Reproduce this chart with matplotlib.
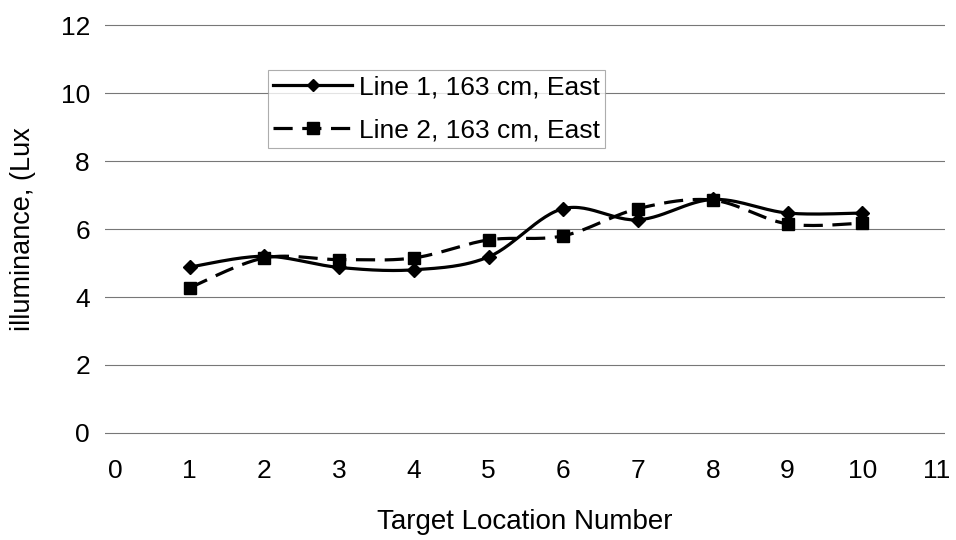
import numpy as np
import matplotlib
matplotlib.use("Agg")
import matplotlib.pyplot as plt

plt.rcParams['font.family'] = ['Liberation Sans', 'DejaVu Sans']

# ---- data
locations = [1, 2, 3, 4, 5, 6, 7, 8, 9, 10]
line1 = [4.88, 5.2, 4.87, 4.8, 5.18, 6.6, 6.27, 6.87, 6.47, 6.47]
line2 = [4.27, 5.15, 5.1, 5.15, 5.68, 5.8, 6.6, 6.85, 6.15, 6.17]
labels = ["Line 1, 163 cm, East", "Line 2, 163 cm, East"]


# Excel-like smoothed line (Catmull-Rom through the points)
def smooth(x, y, n=30):
    x = np.asarray(x, float)
    y = np.asarray(y, float)
    px = np.concatenate([[x[0]], x, [x[-1]]])
    py = np.concatenate([[y[0]], y, [y[-1]]])
    xs, ys = [], []
    for i in range(1, len(px) - 2):
        t = np.linspace(0, 1, n)
        for arr, out in ((px, xs), (py, ys)):
            p0, p1, p2, p3 = arr[i - 1], arr[i], arr[i + 1], arr[i + 2]
            b1 = p1 + (p2 - p0) / 6
            b2 = p2 - (p3 - p1) / 6
            out.extend((1 - t) ** 3 * p1 + 3 * (1 - t) ** 2 * t * b1
                       + 3 * (1 - t) * t ** 2 * b2 + t ** 3 * p2)
    return np.array(xs), np.array(ys)


fig = plt.figure(figsize=(9.56, 5.4), dpi=100)
ax = fig.add_axes([0.11, 0.1944, 0.878, 0.763])

dash = (6, 3)
sx, sy = smooth(locations, line1)
ax.plot(sx, sy, color='black', lw=2.3, solid_capstyle='round')
ax.plot(locations, line1, 'D', color='black', ms=7, lw=0)
sx, sy = smooth(locations, line2)
ax.plot(sx, sy, color='black', lw=2.3, dashes=dash)
ax.plot(locations, line2, 's', color='black', ms=8, lw=0)

# legend proxies
h1, = ax.plot([], [], '-D', color='black', lw=2.3, ms=6)
h2, = ax.plot([], [], '--s', color='black', lw=2.3, ms=8, dashes=dash)
leg = ax.legend([h1, h2], labels, loc='upper left', bbox_to_anchor=(0.194, 0.885),
                fontsize=19, frameon=True, fancybox=False, handlelength=3.0,
                handletextpad=0.25, borderpad=0.2, labelspacing=0.72,
                borderaxespad=0)
leg.get_frame().set_edgecolor('#999999')
leg.get_frame().set_linewidth(0.8)

ax.set_xlim(-0.13, 11.1)
ax.set_ylim(-0.06, 12.06)
ax.set_xticks(range(0, 12))
ax.set_yticks(range(0, 13, 2))
ax.yaxis.grid(True, color='#777777', lw=0.8)
ax.set_axisbelow(True)
for s in ax.spines.values():
    s.set_visible(False)
ax.tick_params(length=0, labelsize=19)
ax.tick_params(axis='y', pad=11)
ax.tick_params(axis='x', pad=17)
ax.set_xlabel("Target Location Number", fontsize=20, labelpad=19)
ax.set_ylabel("illuminance, (Lux", fontsize=19.5, labelpad=18)

plt.savefig("out.png", dpi=100)
